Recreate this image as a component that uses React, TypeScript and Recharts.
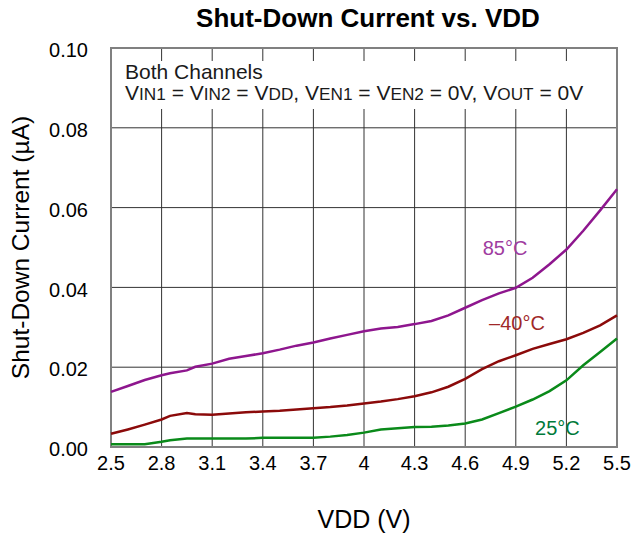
import React from 'react';
import { LineChart, Line, XAxis, YAxis, CartesianGrid, ReferenceArea, ReferenceDot } from 'recharts';

const VDD = [2.5, 2.6, 2.7, 2.8, 2.85, 2.95, 3.0, 3.1, 3.2, 3.3, 3.4, 3.5, 3.6, 3.7, 3.8, 3.9, 4.0, 4.1, 4.2, 4.3, 4.4, 4.5, 4.6, 4.7, 4.8, 4.9, 5.0, 5.1, 5.2, 5.3, 5.4, 5.5];
const T85 = [0.0138, 0.0153, 0.0168, 0.018, 0.0185, 0.0192, 0.0201, 0.0209, 0.0221, 0.0228, 0.0235, 0.0244, 0.0254, 0.0262, 0.0272, 0.0281, 0.029, 0.0297, 0.0301, 0.0308, 0.0316, 0.033, 0.0349, 0.0368, 0.0385, 0.0399, 0.0424, 0.0458, 0.0495, 0.0542, 0.0593, 0.0646];
const TM40 = [0.0033, 0.0044, 0.0056, 0.0069, 0.0078, 0.0085, 0.0082, 0.0081, 0.0084, 0.0087, 0.0089, 0.0091, 0.0094, 0.0097, 0.01, 0.0104, 0.0109, 0.0114, 0.012, 0.0127, 0.0137, 0.0151, 0.0171, 0.0195, 0.0215, 0.023, 0.0246, 0.0258, 0.027, 0.0286, 0.0305, 0.033];
const T25 = [0.0007, 0.0007, 0.0007, 0.0013, 0.0017, 0.0021, 0.0021, 0.0021, 0.0021, 0.0021, 0.0023, 0.0023, 0.0023, 0.0023, 0.0026, 0.003, 0.0036, 0.0044, 0.0047, 0.005, 0.0051, 0.0054, 0.0059, 0.0069, 0.0085, 0.0101, 0.0119, 0.014, 0.0167, 0.0205, 0.0238, 0.0272];

const X_TICKS = [2.5, 2.8, 3.1, 3.4, 3.7, 4, 4.3, 4.6, 4.9, 5.2, 5.5];
const Y_TICKS = [0, 0.02, 0.04, 0.06, 0.08, 0.1];

// where the temperature tags sit, in data units
const TAGS = [
  { x: 4.836, y: 0.05, text: '85°C', color: '#a03ca0' },
  { x: 4.907, y: 0.0312, text: '–40°C', color: '#a02828' },
  { x: 5.147, y: 0.0048, text: '25°C', color: '#007a3a' },
];

const data = VDD.map((v, i) => ({ vdd: v, t85: T85[i], tm40: TM40[i], t25: T25[i] }));

const FONT = '"Liberation Sans", Arial, sans-serif';
const sub = { fontSize: '0.82em' };

export default function App() {
  return (
    <div style={{ position: 'absolute', left: 0, top: 0, width: 640, height: 533, background: '#fff', fontFamily: FONT }}>
      <div style={{ position: 'absolute', left: 0, top: 3, width: 640, paddingLeft: 96, boxSizing: 'border-box', textAlign: 'center', fontWeight: 'bold', fontSize: 26 }}>
        Shut-Down Current vs. VDD
      </div>
      <LineChart width={640} height={533} data={data} margin={{ top: 48, right: 23, left: 0, bottom: 0 }}>
        <CartesianGrid stroke="#333" strokeWidth={1} />
        <XAxis
          dataKey="vdd"
          type="number"
          domain={[2.5, 5.5]}
          ticks={X_TICKS}
          height={86}
          tickLine={false}
          axisLine={false}
          tickSize={0}
          tickMargin={9}
          tick={{ fontSize: 20, fill: '#000', fontFamily: FONT }}
          tickFormatter={(v) => String(v)}
          label={{ value: 'VDD (V)', position: 'insideBottom', offset: 5, style: { fontSize: 25, fill: '#000', fontFamily: FONT } }}
        />
        <YAxis
          type="number"
          domain={[0, 0.1]}
          ticks={Y_TICKS}
          width={111}
          tickLine={false}
          axisLine={false}
          tickSize={0}
          tickMargin={23}
          tick={{ fontSize: 20, fill: '#000', fontFamily: FONT, dy: 2 }}
          tickFormatter={(v) => v.toFixed(2)}
          label={{ value: 'Shut-Down Current (µA)', angle: -90, position: 'insideLeft', offset: 20, style: { textAnchor: 'middle', fontSize: 24.5, fill: '#000', fontFamily: FONT } }}
        />
        <ReferenceArea x1={2.5} x2={5.5} y1={0} y2={0.1} fill="none" stroke="#808080" strokeWidth={2} ifOverflow="visible" />
        <Line type="linear" dataKey="t85" stroke="#8e168e" strokeWidth={2.5} dot={false} isAnimationActive={false} />
        <Line type="linear" dataKey="tm40" stroke="#8b0a0a" strokeWidth={2.5} dot={false} isAnimationActive={false} />
        <Line type="linear" dataKey="t25" stroke="#0a8a1a" strokeWidth={2.5} dot={false} isAnimationActive={false} />
        {TAGS.map((t) => (
          <ReferenceDot
            key={t.text}
            x={t.x}
            y={t.y}
            r={0}
            label={{ value: t.text, position: 'center', style: { fontSize: 20, fill: t.color, fontFamily: FONT } }}
          />
        ))}
      </LineChart>
      <div style={{ position: 'absolute', left: 118, top: 61, width: 472, height: 48, background: '#fff', paddingLeft: 7, boxSizing: 'border-box', fontSize: 21, lineHeight: '21px', color: '#1a1a1a' }}>
        <div>Both Channels</div>
        <div style={{ whiteSpace: 'nowrap' }}>
          V<span style={sub}>IN1</span> = V<span style={sub}>IN2</span> = V<span style={sub}>DD</span>, V<span style={sub}>EN1</span> = V<span style={sub}>EN2</span> = 0V, V<span style={sub}>OUT</span> = 0V
        </div>
      </div>
    </div>
  );
}
